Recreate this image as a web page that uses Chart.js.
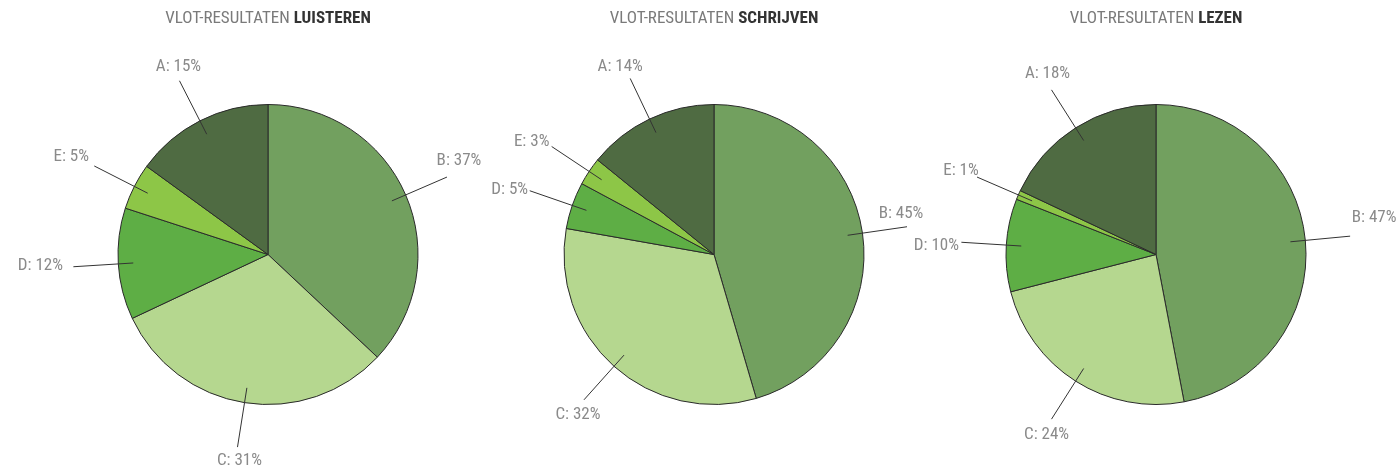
<!DOCTYPE html>
<html>
<head>
<meta charset="utf-8">
<script src="https://cdn.jsdelivr.net/npm/chart.js@4"></script>
<style>
  html, body { margin: 0; padding: 0; background: #fff; }
  #wrap { position: relative; width: 1398px; height: 467px; }
  #wrap canvas { position: absolute; left: 0; top: 0; }
</style>
</head>
<body>
<div id="wrap">
  <canvas id="c1" width="1398" height="467"></canvas>
  <canvas id="c2" width="1398" height="467"></canvas>
  <canvas id="c3" width="1398" height="467"></canvas>
</div>
<script>
// slices, clockwise from 12 o'clock
const categories = ['B', 'C', 'D', 'E', 'A'];
const titlePrefix = 'VLOT-RESULTATEN ';
const titles = ['LUISTEREN', 'SCHRIJVEN', 'LEZEN'];
const luisteren = [37, 31, 12, 5, 15];
const schrijven = [45, 32, 5, 3, 14];
const lezen = [47, 24, 10, 1, 18];

const colors = ['#72a05f', '#b5d78f', '#5eae45', '#8dc647', '#4f6b42'];
const FONT = '"Roboto Condensed", "Liberation Sans Narrow", "DejaVu Sans Condensed", Roboto, sans-serif';

// draws the two-tone title and the labels with leader lines
const labelPlugin = {
  id: 'pieLabels',
  afterDraw(chart, args, opts) {
    const ctx = chart.ctx;
    const arcs = chart.getDatasetMeta(0).data;
    const values = chart.data.datasets[0].data;
    const cx = arcs[0].x, cy = arcs[0].y;

    // title
    ctx.save();
    ctx.textBaseline = 'middle';
    ctx.font = '17px ' + FONT;
    const w1 = ctx.measureText(titlePrefix).width;
    ctx.font = 'bold 17px ' + FONT;
    const w2 = ctx.measureText(opts.title).width;
    let x = cx - (w1 + w2) / 2;
    ctx.textAlign = 'left';
    ctx.font = '17px ' + FONT;
    ctx.fillStyle = '#7a7a7a';
    ctx.fillText(titlePrefix, x, 19);
    ctx.font = 'bold 17px ' + FONT;
    ctx.fillStyle = '#333';
    ctx.fillText(opts.title, x + w1, 19);

    // labels
    ctx.font = '17px ' + FONT;
    arcs.forEach((arc, i) => {
      const p = arc.getProps(['startAngle', 'endAngle', 'outerRadius']);
      const mid = (p.startAngle + p.endAngle) / 2;
      const dx = Math.cos(mid), dy = Math.sin(mid);
      const r = p.outerRadius;
      const x0 = cx + dx * r * 0.9, y0 = cy + dy * r * 0.9;
      const x1 = cx + dx * r * 1.3, y1 = cy + dy * r * 1.3;
      ctx.strokeStyle = '#333';
      ctx.lineWidth = 1;
      ctx.beginPath();
      ctx.moveTo(x0, y0);
      ctx.lineTo(x1, y1);
      ctx.stroke();

      const text = categories[i] + ': ' + values[i] + '%';
      const off = opts.offsets[i];
      ctx.fillStyle = '#8a8a8a';
      ctx.textAlign = 'center';
      ctx.fillText(text, x1 + off[0], y1 + off[1]);
    });
    ctx.restore();
  }
};

function makePie(id, values, title, cx, offsets) {
  const cy = 254.5;
  const size = 301;
  new Chart(document.getElementById(id), {
    type: 'pie',
    data: {
      labels: categories,
      datasets: [{
        data: values,
        backgroundColor: colors,
        borderColor: '#2a2a2a',
        borderWidth: 1
      }]
    },
    options: {
      responsive: false,
      animation: false,
      layout: {
        padding: {
          left: cx - size / 2,
          right: 1398 - cx - size / 2,
          top: cy - size / 2,
          bottom: 467 - cy - size / 2
        }
      },
      plugins: {
        legend: { display: false },
        tooltip: { enabled: false },
        pieLabels: { title: title, offsets: offsets }
      }
    },
    plugins: [labelPlugin]
  });
}

// label offsets from the end of each leader line (B, C, D, E, A)
makePie('c1', luisteren, titles[0], 268, [[12, -16], [2, 14], [-33, -1], [-23, -9], [-1, -14]]);
makePie('c2', schrijven, titles[1], 714, [[-6, -13], [-6, 15], [-20, -1], [-20, -5], [-10, -12]]);
makePie('c3', lezen, titles[2], 1156, [[24, -18], [-5, 16], [-25, 3], [-16, -6], [-4, -16]]);
</script>
</body>
</html>
